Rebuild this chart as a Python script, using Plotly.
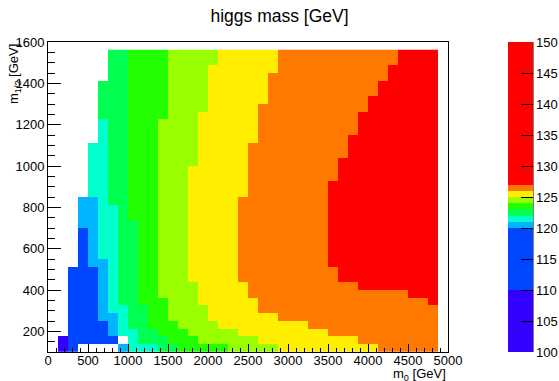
import plotly.graph_objects as go

chart_title = "higgs mass [GeV]"
x_title = "m<sub>0</sub> [GeV]"
y_title = "m<sub>1/2</sub> [GeV]"

# bin edges of the 2D histogram (m0 and m1/2, GeV)
x_edges = [125, 250, 375, 500, 625, 750, 875, 1000, 1125, 1250, 1375, 1500, 1625,
           1750, 1875, 2000, 2125, 2250, 2375, 2500, 2625, 2750, 2875, 3000, 3125,
           3250, 3375, 3500, 3625, 3750, 3875, 4000, 4125, 4250, 4375, 4500, 4625,
           4750, 4875]
y_edges = [100, 137.5, 175, 212.5, 250, 287.5, 325, 362.5, 400, 437.5, 475, 512.5,
           550, 587.5, 625, 662.5, 700, 737.5, 775, 812.5, 850, 887.5, 925, 962.5,
           1000, 1037.5, 1075, 1112.5, 1150, 1187.5, 1225, 1262.5, 1300, 1337.5,
           1375, 1412.5, 1450, 1487.5, 1525, 1562.5]

# contour levels of the colour palette and their colours
band_levels = [100, 110, 120, 121, 122, 123, 124, 125, 126, 127, 150]
band_colors = ["#3300ff", "#0046ff", "#00b4ff", "#00ffcc", "#00ff50", "#22ff00",
               "#99ff00", "#ffee00", "#ff7800", "#ff0000"]

# representative higgs mass (GeV) for each band code
mass_code = {"v": 105.0, "b": 115.0, "l": 120.5, "c": 121.5, "g": 122.5,
             "h": 123.5, "k": 124.5, "y": 125.5, "o": 126.5, "r": 135.0}

# cell bands per m1/2 row (bottom row first), one char per m0 column; "." = empty
grid_rows = [
    "vb....lcccgghhhhhkkkkkyyyyyyyyyyoooooo",
    "vbbbbb.cggghhhkkkkkkyyyyyyyyyyoooooooo",
    ".bbbblccgghhhkkkkkyyyyyyyyyooooooooooo",
    ".bbbblcgghhhkkkkyyyyyyyyyooooooooooooo",
    ".bbbllcgghhkkkkyyyyyyyoooooooooooooooo",
    ".bbblccgghhkkkkyyyyyoooooooooooooooooo",
    ".bbblcgghhhkkkyyyyyyooooooooooooooooor",
    ".bbblcgghhkkkkyyyyyoooooooooooooooorrr",
    ".bbblcgghhkkkkyyyyyooooooooooorrrrrrrr",
    ".bbblcgghhkkkyyyyyoooooooooorrrrrrrrrr",
    ".bbblcgghhkkkyyyyyoooooooooorrrrrrrrrr",
    "..bllcgghhkkkyyyyyooooooooorrrrrrrrrrr",
    "..blccgghhkkkyyyyyooooooooorrrrrrrrrrr",
    "..blccgghhkkkyyyyyooooooooorrrrrrrrrrr",
    "..blccgghhkkkyyyyyooooooooorrrrrrrrrrr",
    "..blccgghhkkkyyyyyooooooooorrrrrrrrrrr",
    "..llccgghhkkkyyyyyooooooooorrrrrrrrrrr",
    "..llccghhhkkkyyyyyooooooooorrrrrrrrrrr",
    "..llccghhhkkkyyyyyooooooooorrrrrrrrrrr",
    "..llcgghhhkkkyyyyyooooooooorrrrrrrrrrr",
    "...ccgghhhkkkyyyyyyoooooooorrrrrrrrrrr",
    "...ccgghhhkkkyyyyyyoooooooorrrrrrrrrrr",
    "...ccgghhhkkkyyyyyyooooooooorrrrrrrrrr",
    "...ccgghhhkkkyyyyyyooooooooorrrrrrrrrr",
    "...ccgghhhkkkkyyyyyooooooooorrrrrrrrrr",
    "...ccgghhhkkkkyyyyyoooooooooorrrrrrrrr",
    "...ccgghhhkkkkyyyyyoooooooooorrrrrrrrr",
    "....cgghhhkkkkyyyyyyooooooooorrrrrrrrr",
    "....cgghhhkkkkyyyyyyoooooooooorrrrrrrr",
    "....cgghhhkkkkyyyyyyoooooooooorrrrrrrr",
    "....ggghhhhkkkyyyyyyoooooooooorrrrrrrr",
    "....ggghhhhkkkkyyyyyooooooooooorrrrrrr",
    "....ggghhhhkkkkyyyyyyoooooooooorrrrrrr",
    "....ggghhhhkkkkyyyyyyooooooooooorrrrrr",
    "....ggghhhhkkkkyyyyyyooooooooooorrrrrr",
    ".....gghhhhkkkkyyyyyyoooooooooooorrrrr",
    ".....gghhhhkkkkyyyyyyyooooooooooorrrrr",
    ".....gghhhhkkkkkyyyyyyoooooooooooorrrr",
    ".....gghhhhkkkkkyyyyyyoooooooooooorrrr",
]

x_ticks = [0, 500, 1000, 1500, 2000, 2500, 3000, 3500, 4000, 4500, 5000]
y_ticks = [200, 400, 600, 800, 1000, 1200, 1400, 1600]
z_ticks = [100, 105, 110, 115, 120, 125, 130, 135, 140, 145, 150]

ncol = len(x_edges) - 1
for i, row in enumerate(grid_rows):
    assert len(row) == ncol, (i, len(row))
assert len(grid_rows) == len(y_edges) - 1

z = [[mass_code.get(ch, None) for ch in row] for row in grid_rows]

zmin, zmax = band_levels[0], band_levels[-1]
colorscale = []
for i, col in enumerate(band_colors):
    colorscale.append([(band_levels[i] - zmin) / (zmax - zmin), col])
    colorscale.append([(band_levels[i + 1] - zmin) / (zmax - zmin), col])

font_family = "Liberation Sans, Arial, Helvetica, sans-serif"

fig = go.Figure()
fig.add_trace(go.Heatmap(
    x=x_edges, y=y_edges, z=z,
    zmin=zmin, zmax=zmax, colorscale=colorscale, zsmooth=False,
    hoverongaps=False,
    colorbar=dict(
        x=1.15, xanchor="left", y=0.5, yanchor="middle",
        len=1, lenmode="fraction", thickness=25, thicknessmode="pixels",
        xpad=0, ypad=0, outlinewidth=0,
        tickmode="array", tickvals=z_ticks,
        ticks="inside", ticklen=12, tickcolor="black", tickwidth=1,
        tickfont=dict(family=font_family, size=13, color="black"),
    ),
))

fig.update_layout(
    width=559, height=381,
    margin=dict(l=48, r=111, t=42, b=29, autoexpand=False),
    paper_bgcolor="white", plot_bgcolor="white",
    title=dict(text=chart_title, x=0.5, xanchor="center", xref="container",
               y=1 - 16 / 381, yanchor="middle",
               font=dict(family=font_family, size=17.5, color="black")),
    xaxis=dict(range=[0, 5000], tickmode="array", tickvals=x_ticks,
               ticks="inside", ticklen=8, tickcolor="black", tickwidth=1,
               minor=dict(ticks="inside", ticklen=4, dtick=100, tickcolor="black"),
               showline=True, mirror=True, linecolor="black", linewidth=1,
               showgrid=False, zeroline=False, automargin=False,
               ticklabelstandoff=-4,
               tickfont=dict(family=font_family, size=13, color="black")),
    yaxis=dict(range=[100, 1600], tickmode="array", tickvals=y_ticks,
               ticks="inside", ticklen=13, tickcolor="black", tickwidth=1,
               minor=dict(ticks="inside", ticklen=7, dtick=50, tickcolor="black"),
               showline=True, mirror=True, linecolor="black", linewidth=1,
               showgrid=False, zeroline=False, automargin=False,
               tickfont=dict(family=font_family, size=13, color="black")),
    annotations=[
        dict(text=x_title, xref="paper", yref="paper", x=1.0, y=-0.071,
             xanchor="right", yanchor="middle", showarrow=False,
             font=dict(family=font_family, size=13, color="black")),
        dict(text=y_title, xref="paper", yref="paper", x=-0.085, y=1.0,
             xanchor="center", yanchor="top", textangle=-90, showarrow=False,
             font=dict(family=font_family, size=13, color="black")),
    ],
    shapes=[
        dict(type="line", xref="paper", yref="paper", x0=1.2125, x1=1.2125,
             y0=0, y1=1, line=dict(color="black", width=1)),
    ],
)

fig.write_html("out.html")
